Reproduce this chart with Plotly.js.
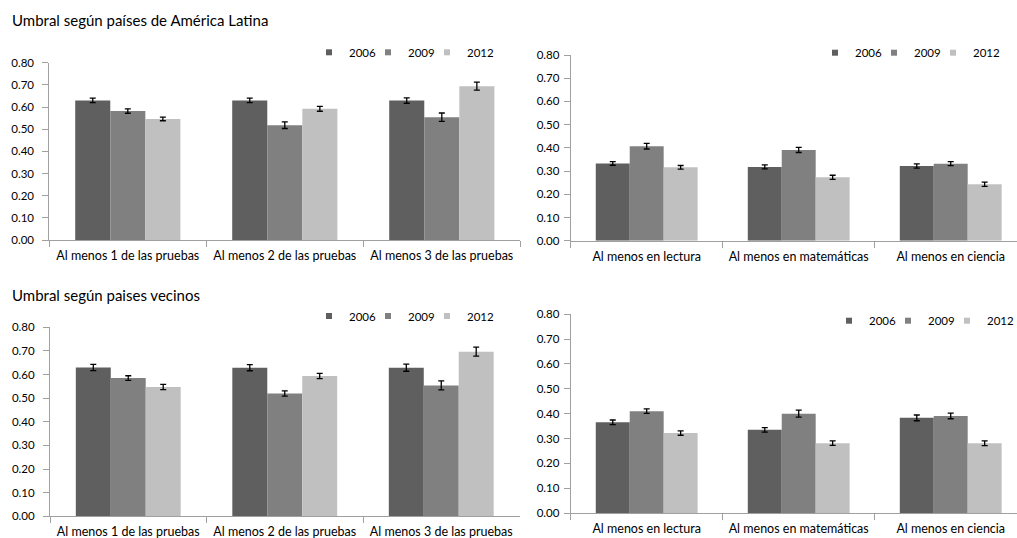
<!DOCTYPE html>
<html>
<head>
<meta charset="utf-8">
<script src="https://cdn.plot.ly/plotly-3.0.1.min.js"></script>
<style>
  html, body { margin: 0; padding: 0; background: #fff; }
  #chart { width: 1017px; height: 538px; }
</style>
</head>
<body>
<div id="chart"></div>
<script>
// Categories and series
const testCategories = ["Al menos 1 de las pruebas", "Al menos 2 de las pruebas", "Al menos 3 de las pruebas"];
const subjectCategories = ["Al menos en lectura", "Al menos en matemáticas", "Al menos en ciencia"];
const years = ["2006", "2009", "2012"];

// Umbral según países de América Latina — número de pruebas
const latamTests2006 = [0.630, 0.630, 0.629];
const latamTests2009 = [0.582, 0.518, 0.554];
const latamTests2012 = [0.546, 0.592, 0.694];
const latamTestsErr2006 = [0.010, 0.010, 0.012];
const latamTestsErr2009 = [0.010, 0.015, 0.019];
const latamTestsErr2012 = [0.008, 0.011, 0.018];

// Umbral según países de América Latina — por materia
const latamSubj2006 = [0.333, 0.318, 0.322];
const latamSubj2009 = [0.407, 0.391, 0.332];
const latamSubj2012 = [0.316, 0.273, 0.243];
const latamSubjErr2006 = [0.008, 0.009, 0.009];
const latamSubjErr2009 = [0.012, 0.011, 0.009];
const latamSubjErr2012 = [0.008, 0.009, 0.009];

// Umbral según países vecinos — número de pruebas
const vecTests2006 = [0.630, 0.629, 0.629];
const vecTests2009 = [0.585, 0.520, 0.554];
const vecTests2012 = [0.547, 0.594, 0.697];
const vecTestsErr2006 = [0.013, 0.013, 0.015];
const vecTestsErr2009 = [0.010, 0.011, 0.019];
const vecTestsErr2012 = [0.011, 0.011, 0.019];

// Umbral según países vecinos — por materia
const vecSubj2006 = [0.365, 0.335, 0.383];
const vecSubj2009 = [0.410, 0.400, 0.391];
const vecSubj2012 = [0.322, 0.281, 0.281];
const vecSubjErr2006 = [0.0095, 0.009, 0.0115];
const vecSubjErr2009 = [0.009, 0.014, 0.0115];
const vecSubjErr2012 = [0.009, 0.009, 0.0095];

const yearColors = ["#5f5f5f", "#808080", "#c0c0c0"];
const FONT = "Lato, 'Open Sans', sans-serif";

const panels = [
  { cats: testCategories, vals: [latamTests2006, latamTests2009, latamTests2012],
    errs: [latamTestsErr2006, latamTestsErr2009, latamTestsErr2012], xa: "x", ya: "y", legend: "legend" },
  { cats: subjectCategories, vals: [latamSubj2006, latamSubj2009, latamSubj2012],
    errs: [latamSubjErr2006, latamSubjErr2009, latamSubjErr2012], xa: "x2", ya: "y2", legend: "legend2" },
  { cats: testCategories, vals: [vecTests2006, vecTests2009, vecTests2012],
    errs: [vecTestsErr2006, vecTestsErr2009, vecTestsErr2012], xa: "x3", ya: "y3", legend: "legend3" },
  { cats: subjectCategories, vals: [vecSubj2006, vecSubj2009, vecSubj2012],
    errs: [vecSubjErr2006, vecSubjErr2009, vecSubjErr2012], xa: "x4", ya: "y4", legend: "legend4" }
];

const traces = [];
panels.forEach(p => {
  years.forEach((yr, i) => {
    traces.push({
      type: "bar", x: p.cats, y: p.vals[i], name: yr,
      xaxis: p.xa, yaxis: p.ya, showlegend: false,
      marker: { color: yearColors[i], line: { width: 0 } },
      error_y: { type: "data", array: p.errs[i], visible: true, color: "#000", thickness: 1.3, width: 3 },
      hoverinfo: "skip"
    });
  });
  // small square keys for the legend of each panel
  years.forEach((yr, i) => {
    traces.push({
      type: "scatter", mode: "markers", x: [null], y: [null], name: yr,
      xaxis: p.xa, yaxis: p.ya, legend: p.legend, showlegend: true,
      marker: { symbol: "square", size: 6, color: yearColors[i] },
      hoverinfo: "skip"
    });
  });
});

const W = 1017, H = 538;
const px = v => v / W;
const py = v => 1 - v / H;

function xAxis(domain, range) {
  return {
    domain: domain, type: "category", range: range,
    showline: true, linecolor: "#a0a0a0", linewidth: 1,
    ticks: "outside", tickson: "boundaries", ticklen: 6, tickcolor: "#a0a0a0",
    ticklabelstandoff: 4,
    showgrid: false, zeroline: false, fixedrange: true,
    tickfont: { family: FONT, size: 12.5, color: "#000" }
  };
}
function yAxis(domain, standoff) {
  return {
    domain: domain, range: [0, 0.8], dtick: 0.1, tickformat: ".2f",
    showline: true, linecolor: "#a0a0a0", linewidth: 1,
    ticks: "outside", ticklen: 6, tickcolor: "#a0a0a0",
    ticklabelstandoff: standoff,
    showgrid: false, zeroline: false, fixedrange: true,
    tickfont: { family: FONT, size: 11.5, color: "#000" }
  };
}
function legendAt(xLeft, yMid) {
  return {
    orientation: "h", x: px(xLeft), y: py(yMid), xanchor: "left", yanchor: "middle",
    font: { family: FONT, size: 11.5, color: "#000" }, bgcolor: "rgba(0,0,0,0)",
    borderwidth: 0, entrywidth: 14, entrywidthmode: "pixels", itemwidth: 30, tracegroupgap: 0
  };
}

const layout = {
  width: W, height: H,
  margin: { l: 0, r: 0, t: 0, b: 0, autoexpand: false },
  paper_bgcolor: "#fff", plot_bgcolor: "#fff",
  showlegend: true,
  barmode: "group", bargap: 0.33, bargroupgap: 0,
  font: { family: FONT, color: "#000" },
  xaxis:  Object.assign(xAxis([px(49.3), px(520.3)], [-0.5, 2.5]), { anchor: "y" }),
  yaxis:  Object.assign(yAxis([py(240), py(62.7)], 6), { anchor: "x" }),
  xaxis2: Object.assign(xAxis([px(570.7), 1], [-0.5, 2.436]), { anchor: "y2" }),
  yaxis2: Object.assign(yAxis([py(240.7), py(55)], 2), { anchor: "x2" }),
  xaxis3: Object.assign(xAxis([px(50), px(519.5)], [-0.5, 2.5]), { anchor: "y3" }),
  yaxis3: Object.assign(yAxis([py(516.3), py(327.3)], 6), { anchor: "x3" }),
  xaxis4: Object.assign(xAxis([px(570.7), 1], [-0.5, 2.436]), { anchor: "y4" }),
  yaxis4: Object.assign(yAxis([py(513), py(314.3)], 2), { anchor: "x4" }),
  legend:  legendAt(309, 52.3),
  legend2: legendAt(815, 52.7),
  legend3: legendAt(309, 316),
  legend4: legendAt(829, 320.7),
  annotations: [
    { text: "Umbral según países de América Latina", xref: "paper", yref: "paper",
      x: px(10), y: py(20), xanchor: "left", yanchor: "middle", showarrow: false,
      font: { family: FONT, size: 15, color: "#000" } },
    { text: "Umbral según paises vecinos", xref: "paper", yref: "paper",
      x: px(10), y: py(295), xanchor: "left", yanchor: "middle", showarrow: false,
      font: { family: FONT, size: 15, color: "#000" } }
  ]
};

Plotly.newPlot("chart", traces, layout, { staticPlot: true, displayModeBar: false }).then(gd => {
  // let the narrow legend entries show their full year labels
  gd.querySelectorAll(".scrollbox").forEach(el => el.removeAttribute("clip-path"));
});
</script>
</body>
</html>
